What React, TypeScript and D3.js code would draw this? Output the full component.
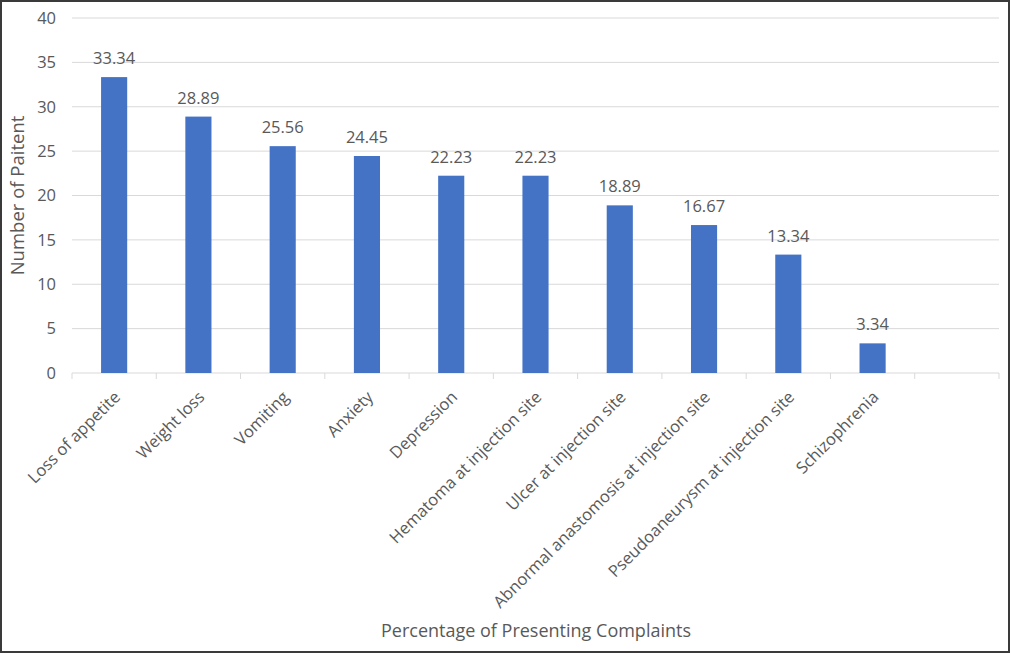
import React from "react";
import * as d3 from "d3";

const categories = [
  "Loss of appetite",
  "Weight loss",
  "Vomiting",
  "Anxiety",
  "Depression",
  "Hematoma at injection site",
  "Ulcer at injection site",
  "Abnormal anastomosis at injection site",
  "Pseudoaneurysm at injection site",
  "Schizophrenia",
  "",
];
const values: (number | null)[] = [33.34, 28.89, 25.56, 24.45, 22.23, 22.23, 18.89, 16.67, 13.34, 3.34, null];
const yTicks = [0, 5, 10, 15, 20, 25, 30, 35, 40];

const W = 1011;
const H = 654;
const margin = { left: 72, right: 12, top: 18, bottom: 281 };
const FONT = "'Open Sans', sans-serif";
const TEXT = "#595959";

export default function App() {
  const x = d3
    .scaleBand<number>()
    .domain(categories.map((_, i) => i))
    .range([margin.left, W - margin.right])
    .paddingInner(0)
    .paddingOuter(0);
  const y = d3.scaleLinear().domain([0, 40]).range([H - margin.bottom, margin.top]);
  const bw = x.bandwidth();
  const barW = bw * 0.31;
  const y0 = y(0);
  const plotMid = (y(0) + y(40)) / 2;

  return (
    <svg
      width={W}
      height={H}
      style={{ position: "absolute", left: 0, top: 0, background: "#fff" }}
      fontFamily={FONT}
    >
      <rect x={0} y={0} width={W} height={H} fill="#fff" />
      {yTicks.map((t) => (
        <g key={t}>
          {t !== 0 && (
            <line x1={margin.left} x2={W - margin.right} y1={y(t)} y2={y(t)} stroke="#d9d9d9" strokeWidth={1} />
          )}
          <text x={56} y={y(t)} dy="0.35em" textAnchor="end" fontSize={16.5} fill={TEXT}>
            {t}
          </text>
        </g>
      ))}
      <line x1={margin.left} x2={W - margin.right} y1={y0} y2={y0} stroke="#d9d9d9" strokeWidth={1} />
      {d3.range(categories.length + 1).map((i) => {
        const xx = margin.left + i * bw;
        return <line key={i} x1={xx} x2={xx} y1={y0} y2={y0 + 6} stroke="#d9d9d9" strokeWidth={1} />;
      })}
      {values.map((v, i) =>
        v == null ? null : (
          <g key={i}>
            <rect
              x={(x(i) as number) + bw / 2 - barW / 2}
              y={y(v)}
              width={barW}
              height={y0 - y(v)}
              fill="#4472C4"
            />
            <text
              x={(x(i) as number) + bw / 2}
              y={y(v) - 13}
              textAnchor="middle"
              fontSize={16.5}
              fill={TEXT}
            >
              {v.toFixed(2)}
            </text>
          </g>
        )
      )}
      {categories.map((c, i) => {
        const cx = (x(i) as number) + bw / 2 + 3;
        const cy = y0 + 21;
        return (
          <text
            key={i}
            x={cx}
            y={cy}
            dy="0.35em"
            textAnchor="end"
            fontSize={16.5}
            fill={TEXT}
            transform={`rotate(-45 ${cx} ${cy})`}
          >
            {c}
          </text>
        );
      })}
      <text
        x={18}
        y={plotMid}
        dy="0.35em"
        textAnchor="middle"
        fontSize={18.5}
        fill={TEXT}
        transform={`rotate(-90 18 ${plotMid})`}
      >
        Number of Paitent
      </text>
      <text x={536} y={637} textAnchor="middle" fontSize={18} fill={TEXT}>
        Percentage of Presenting Complaints
      </text>
      <rect x={1} y={1} width={W - 3} height={H - 3} fill="none" stroke="#3a3a3a" strokeWidth={2} />
    </svg>
  );
}
